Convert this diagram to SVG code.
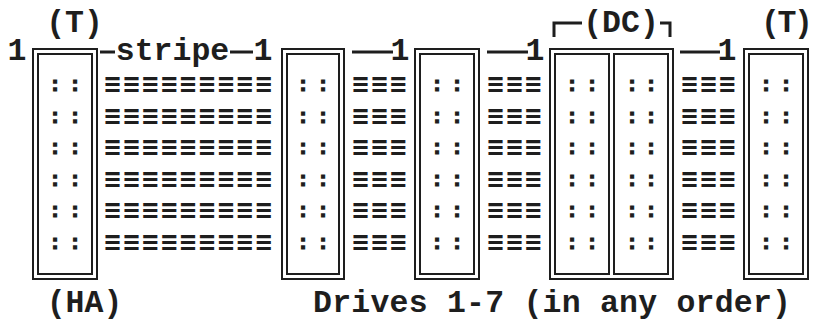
<svg xmlns="http://www.w3.org/2000/svg" width="814" height="322" viewBox="0 0 814 322">
<style>
.t{font-family:"Liberation Mono","Courier New",monospace;font-weight:bold;font-size:31.5px;fill:#1e1e1e}
.m{text-anchor:middle}
.c{font-family:"Liberation Mono","Courier New",monospace;font-weight:bold;font-size:21px;fill:#1e1e1e;stroke:#1e1e1e;stroke-width:1.2;text-anchor:middle}
.s{font-family:"DejaVu Sans",sans-serif;font-weight:bold;font-size:27px;fill:#1e1e1e}
.f{fill:none;stroke:#1e1e1e;stroke-width:2}
.l{fill:none;stroke:#1e1e1e;stroke-width:3}
</style>
<rect width="814" height="322" fill="#ffffff"/>
<g id="labels">
<text class="t m" x="74.5" y="32">(T)</text>
<text class="t" x="813" y="32" text-anchor="end" textLength="52">(T)</text>
<text class="t m" x="17" y="60">1</text>
<text class="t m" x="84.5" y="312">(HA)</text>
<text class="t" x="313" y="312" textLength="478">Drives 1-7 (in any order)</text>
</g>
<g id="node-ha">
<rect class="f" x="33" y="49" width="64" height="230"/>
<rect class="f" x="38" y="54" width="54" height="220"/>
<text class="c" x="55 75" y="91">::</text>
<text class="c" x="55 75" y="122.5">::</text>
<text class="c" x="55 75" y="154">::</text>
<text class="c" x="55 75" y="185.5">::</text>
<text class="c" x="55 75" y="217">::</text>
<text class="c" x="55 75" y="248.5">::</text>
</g>
<g id="node-d2">
<rect class="f" x="282" y="49" width="62" height="230"/>
<rect class="f" x="287" y="54" width="52" height="220"/>
<text class="c" x="303 323" y="91">::</text>
<text class="c" x="303 323" y="122.5">::</text>
<text class="c" x="303 323" y="154">::</text>
<text class="c" x="303 323" y="185.5">::</text>
<text class="c" x="303 323" y="217">::</text>
<text class="c" x="303 323" y="248.5">::</text>
</g>
<g id="node-d3">
<rect class="f" x="415" y="49" width="64" height="230"/>
<rect class="f" x="420" y="54" width="54" height="220"/>
<text class="c" x="437 457" y="91">::</text>
<text class="c" x="437 457" y="122.5">::</text>
<text class="c" x="437 457" y="154">::</text>
<text class="c" x="437 457" y="185.5">::</text>
<text class="c" x="437 457" y="217">::</text>
<text class="c" x="437 457" y="248.5">::</text>
</g>
<g id="node-dc">
<path class="l" d="M554,37V23H582M660,23H670V37"/>
<text class="t m" x="621" y="32">(DC)</text>
<rect class="f" x="550" y="49" width="123" height="230"/>
<rect class="f" x="555" y="54" width="54" height="220"/>
<rect class="f" x="614" y="54" width="54" height="220"/>
<text class="c" x="572 592 632 651" y="91">::::</text>
<text class="c" x="572 592 632 651" y="122.5">::::</text>
<text class="c" x="572 592 632 651" y="154">::::</text>
<text class="c" x="572 592 632 651" y="185.5">::::</text>
<text class="c" x="572 592 632 651" y="217">::::</text>
<text class="c" x="572 592 632 651" y="248.5">::::</text>
</g>
<g id="node-t2">
<rect class="f" x="744" y="49" width="64" height="230"/>
<rect class="f" x="749" y="54" width="54" height="220"/>
<text class="c" x="766 786" y="91">::</text>
<text class="c" x="766 786" y="122.5">::</text>
<text class="c" x="766 786" y="154">::</text>
<text class="c" x="766 786" y="185.5">::</text>
<text class="c" x="766 786" y="217">::</text>
<text class="c" x="766 786" y="248.5">::</text>
</g>
<g id="connectors">
<path class="l" d="M100,52H115M230,52H253M352,52H393M487,52H528M680,52H720"/>
<text class="t m" x="172.5" y="60">stripe</text>
<text class="t m" x="263" y="60">1</text>
<text class="t m" x="400" y="60">1</text>
<text class="t m" x="535" y="60">1</text>
<text class="t m" x="727" y="60">1</text>
<text class="s" transform="translate(103,93) scale(0.836,1)">≡≡≡≡≡≡≡≡≡</text>
<text class="s" transform="translate(103,124.5) scale(0.836,1)">≡≡≡≡≡≡≡≡≡</text>
<text class="s" transform="translate(103,156) scale(0.836,1)">≡≡≡≡≡≡≡≡≡</text>
<text class="s" transform="translate(103,187.5) scale(0.836,1)">≡≡≡≡≡≡≡≡≡</text>
<text class="s" transform="translate(103,219) scale(0.836,1)">≡≡≡≡≡≡≡≡≡</text>
<text class="s" transform="translate(103,250.5) scale(0.836,1)">≡≡≡≡≡≡≡≡≡</text>
<text class="s" transform="translate(351,93) scale(0.836,1)">≡≡≡</text>
<text class="s" transform="translate(351,124.5) scale(0.836,1)">≡≡≡</text>
<text class="s" transform="translate(351,156) scale(0.836,1)">≡≡≡</text>
<text class="s" transform="translate(351,187.5) scale(0.836,1)">≡≡≡</text>
<text class="s" transform="translate(351,219) scale(0.836,1)">≡≡≡</text>
<text class="s" transform="translate(351,250.5) scale(0.836,1)">≡≡≡</text>
<text class="s" transform="translate(486,93) scale(0.836,1)">≡≡≡</text>
<text class="s" transform="translate(486,124.5) scale(0.836,1)">≡≡≡</text>
<text class="s" transform="translate(486,156) scale(0.836,1)">≡≡≡</text>
<text class="s" transform="translate(486,187.5) scale(0.836,1)">≡≡≡</text>
<text class="s" transform="translate(486,219) scale(0.836,1)">≡≡≡</text>
<text class="s" transform="translate(486,250.5) scale(0.836,1)">≡≡≡</text>
<text class="s" transform="translate(680,93) scale(0.836,1)">≡≡≡</text>
<text class="s" transform="translate(680,124.5) scale(0.836,1)">≡≡≡</text>
<text class="s" transform="translate(680,156) scale(0.836,1)">≡≡≡</text>
<text class="s" transform="translate(680,187.5) scale(0.836,1)">≡≡≡</text>
<text class="s" transform="translate(680,219) scale(0.836,1)">≡≡≡</text>
<text class="s" transform="translate(680,250.5) scale(0.836,1)">≡≡≡</text>
</g>
</svg>
